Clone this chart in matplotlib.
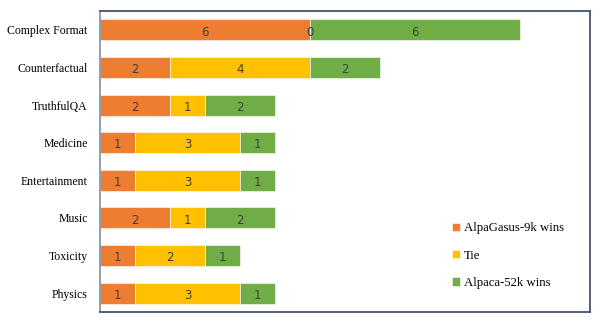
import matplotlib
matplotlib.use("Agg")
import matplotlib.pyplot as plt
import numpy as np

categories = ["Complex Format", "Counterfactual", "TruthfulQA", "Medicine",
              "Entertainment", "Music", "Toxicity", "Physics"]
alpagasus_wins = [6, 2, 2, 1, 1, 2, 1, 1]
tie = [0, 4, 1, 3, 3, 1, 2, 3]
alpaca_wins = [6, 2, 2, 1, 1, 2, 1, 1]
series_names = ["AlpaGasus-9k wins", "Tie", "Alpaca-52k wins"]
colors = ["#ED7D31", "#FFC000", "#70AD47"]

fig = plt.figure(figsize=(6.09, 3.22), dpi=100)
ax = fig.add_axes([100/609, 1 - 312/322, 490/609, 301/322])

y = np.arange(len(categories))
left = np.zeros(len(categories))
handles = []
for vals, name, c in zip([alpagasus_wins, tie, alpaca_wins], series_names, colors):
    vals = np.array(vals, dtype=float)
    bars = ax.barh(y, vals, left=left, height=0.56, color=c, edgecolor="white",
                   linewidth=0.4, label=name)
    handles.append(bars)
    for yi, l, v in zip(y, left, vals):
        ax.text(l + v / 2, yi + 0.02, f"{int(v)}", ha="center", va="center_baseline",
                fontsize=8.5, color="#404040", family="DejaVu Sans")
    left += vals

ax.set_xlim(0, 14)
ax.set_ylim(len(categories) - 0.5, -0.5)
ax.set_yticks(y)
ax.set_yticklabels(categories, family="Liberation Serif", fontsize=8.5)
ax.tick_params(axis="y", length=0, pad=9)
ax.set_xticks([])
for s in ["top", "right", "bottom"]:
    ax.spines[s].set_color("#44546A")
    ax.spines[s].set_linewidth(1.3)
ax.spines["left"].set_color("#8C96A6")
ax.spines["left"].set_linewidth(1.3)

leg = ax.legend(handles=handles, labels=series_names, loc="lower left",
                frameon=False,
                prop={"family": "Liberation Serif", "size": 9.2},
                handlelength=0.6, handleheight=0.6, handletextpad=0.3,
                labelspacing=1.2, borderpad=0, borderaxespad=0)
leg.set_bbox_to_anchor(((452 - 100) / 490, (312 - 289) / 301), transform=ax.transAxes)

fig.savefig("out.png", dpi=100)
